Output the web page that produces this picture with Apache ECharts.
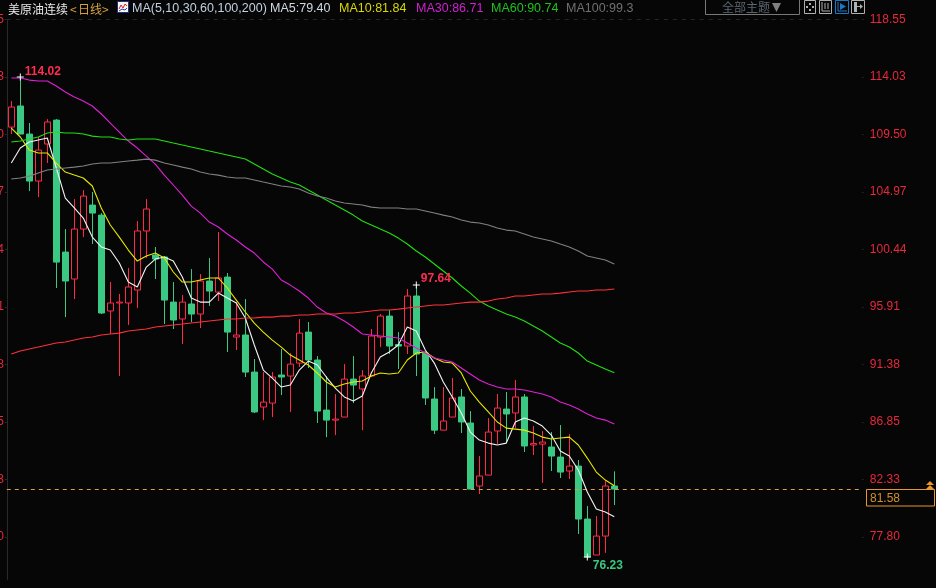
<!DOCTYPE html>
<html lang="zh">

<head>
    <meta charset="UTF-8">
    <script src="https://cdn.jsdelivr.net/npm/echarts@6/dist/echarts.min.js"></script>
    <title>美原油连续</title>
    <style>
        html, body { margin: 0; padding: 0; background: #060606; }
        #main { width: 936px; height: 588px; }
    </style>
</head>

<body>
    <div id="main"></div>

    <script>
        // [open, close, low, high]
        var candles = [
            [110.08,111.66,109.53,112.13],[111.74,109.53,109.53,114.02],[109.53,105.83,105.04,110.40],[105.83,108.27,104.57,109.30],
            [108.75,110.48,107.25,110.71],[110.63,99.45,97.41,110.71],[100.24,97.96,95.12,102.05],[98.12,102.05,96.54,104.41],
            [102.05,104.65,101.42,105.12],[103.94,103.31,100.87,104.97],[103.15,95.44,95.36,103.31],[95.60,96.23,93.79,97.88],
            [96.23,96.30,90.48,96.94],[96.23,97.49,94.50,98.98],[97.25,101.90,95.83,102.68],[101.90,103.63,99.77,104.41],
            [100.01,99.69,98.12,100.64],[99.85,96.46,94.57,99.93],[96.30,94.89,94.18,97.88],[94.97,96.30,93.00,96.86],
            [96.15,95.36,94.73,98.90],[95.36,97.96,94.26,98.51],[97.96,97.17,95.99,99.77],[97.09,98.20,96.38,101.82],
            [98.27,93.94,92.37,98.59],[93.55,93.71,92.53,96.30],[93.71,90.79,90.40,96.54],[90.79,87.65,87.57,91.82],
            [88.04,88.43,87.01,90.79],[88.35,90.40,87.25,90.79],[90.56,90.40,88.98,92.61],[90.48,91.42,87.65,92.29],
            [91.50,93.86,91.19,94.97],[93.94,91.74,91.11,94.73],[91.74,87.72,86.78,92.05],[87.80,87.01,85.67,90.48],
            [87.01,87.09,85.83,89.06],[87.25,90.24,87.25,91.42],[90.24,89.77,88.35,92.05],[89.46,90.48,86.22,90.95],
            [90.48,93.63,90.40,94.18],[93.55,95.20,92.76,95.36],[95.20,92.84,92.21,95.68],[92.96,92.84,91.03,93.94],
            [92.84,96.78,92.21,97.33],[96.78,92.21,90.48,97.64],[92.29,88.75,88.20,92.29],[88.67,86.22,85.91,89.61],
            [86.22,86.94,86.22,89.61],[87.25,88.75,87.25,90.32],[88.83,86.86,85.99,89.46],[86.78,81.58,81.58,87.72],
            [81.82,82.61,81.19,84.18],[82.68,86.07,82.68,87.17],[86.15,87.96,85.12,89.06],[87.88,87.49,85.20,89.22],
            [87.57,88.83,86.38,90.17],[88.83,84.97,84.50,89.06],[85.05,85.16,84.26,86.54],[85.12,85.28,82.06,86.15],
            [84.89,84.18,83.00,86.07],[84.10,82.92,82.45,86.62],[83.00,83.39,82.37,85.91],[83.39,79.22,78.04,83.87],
            [79.22,76.23,76.23,80.25],[76.39,77.88,76.39,79.46],[77.88,81.82,76.56,82.21],[81.82,81.58,80.32,82.98]
        ];

        var ma5 = [107.25,108.43,108.90,109.06,109.22,106.86,104.49,103.71,102.92,101.42,
            100.64,100.40,99.38,97.88,97.49,99.06,99.69,99.85,99.53,98.27,
            96.62,96.30,96.30,97.01,96.62,96.23,95.05,92.92,90.95,90.32,
            89.61,89.77,90.95,91.66,91.35,90.40,89.53,88.83,88.51,88.91,
            90.72,91.97,92.37,92.92,94.34,94.02,92.53,91.50,90.01,88.83,
            87.57,86.07,85.44,85.20,85.05,85.20,86.86,87.17,86.94,86.54,
            85.83,84.57,84.18,83.08,81.35,80.01,79.77,79.40];

        var ma10 = [110.00,109.30,108.27,108.04,108.04,107.25,106.54,106.30,106.07,105.44,
            103.71,102.37,101.42,100.40,99.53,99.93,100.16,99.77,98.67,97.88,
            97.88,98.04,98.20,98.20,97.41,96.46,95.52,94.65,93.94,93.31,
            92.76,92.13,91.74,91.35,90.72,90.01,89.61,89.85,90.01,90.09,
            90.48,90.72,90.64,90.72,91.74,92.29,92.37,91.90,91.58,91.50,
            90.72,89.30,88.43,87.65,86.86,86.38,86.30,86.22,85.99,85.67,
            85.52,85.60,85.67,85.05,84.02,82.92,82.29,81.84];

        var ma30 = [113.94,113.94,113.78,113.71,113.71,113.31,112.84,112.45,112.13,111.74,
            111.11,110.40,109.69,108.98,108.43,107.80,107.17,106.30,105.52,104.73,
            103.86,103.31,102.60,102.21,101.66,101.19,100.64,100.16,99.46,98.90,
            98.04,97.64,97.17,96.62,95.91,95.44,95.20,94.81,94.34,93.79,
            93.71,93.63,93.55,93.47,93.08,92.68,92.29,91.90,91.74,91.58,
            91.11,90.64,90.17,89.85,89.61,89.46,89.46,89.38,89.22,89.06,
            88.83,88.43,88.20,87.88,87.49,87.17,87.01,86.71];

        var ma60 = [108.90,108.98,109.14,109.30,109.61,109.69,109.61,109.61,109.53,109.37,
            109.30,109.30,109.14,109.06,109.14,109.14,109.14,108.98,108.82,108.67,
            108.51,108.35,108.19,108.04,107.88,107.72,107.56,107.17,106.78,106.38,
            106.07,105.75,105.52,105.12,104.73,104.34,103.94,103.55,103.15,102.68,
            102.37,102.05,101.74,101.34,100.87,100.32,99.85,99.30,98.75,98.20,
            97.57,97.01,96.38,95.99,95.68,95.36,95.12,94.81,94.42,94.02,
            93.55,93.08,92.76,92.29,91.66,91.35,91.03,90.74];

        var ma100 = [105.99,106.07,106.22,106.46,106.70,106.78,106.86,106.93,107.01,107.17,
            107.25,107.25,107.33,107.41,107.48,107.56,107.48,107.25,107.09,106.93,
            106.78,106.54,106.38,106.30,106.15,106.07,106.07,105.91,105.75,105.60,
            105.44,105.36,105.20,104.89,104.65,104.49,104.26,104.10,104.02,103.94,
            103.78,103.71,103.71,103.71,103.63,103.63,103.47,103.31,103.15,103.00,
            102.76,102.60,102.53,102.37,102.13,101.97,101.90,101.66,101.42,101.27,
            101.11,100.87,100.64,100.32,99.93,99.77,99.61,99.30];

        var ma200 = [92.21,92.45,92.61,92.76,92.92,93.08,93.16,93.31,93.47,93.55,
            93.71,93.79,93.86,94.02,94.10,94.18,94.34,94.42,94.50,94.57,
            94.65,94.73,94.81,94.89,94.97,94.97,95.05,95.05,95.12,95.12,
            95.20,95.20,95.28,95.28,95.36,95.36,95.36,95.44,95.44,95.52,
            95.60,95.68,95.68,95.75,95.83,95.91,95.99,96.07,96.07,96.15,
            96.23,96.30,96.30,96.38,96.54,96.62,96.78,96.78,96.86,96.94,
            96.94,97.01,97.09,97.17,97.17,97.25,97.25,97.33];

        var tickLabels = [118.55, 114.03, 109.50, 104.97, 100.44, 95.91, 91.38, 86.85, 82.33, 77.80];
        var lastClose = 81.58;
        // [candle index, value] of the marked high and low
        var extremes = [[1, 114.02, '#ff2d50', 0, -5], [45, 97.64, '#ff2d50', 0, -6], [64, 76.23, '#3ac882', 1, 9]];
        var upColor = '#ff2a48';
        var downColor = '#3ac882';
        var bg = '#060606';

        // 9px per candle, the empty part on the right is kept free like in the terminal
        var slotCount = 95;
        var slots = [];
        for (var s = 0; s < slotCount; s++) slots.push(s);

        var sansFont = '"Liberation Sans", "Noto Sans CJK SC", sans-serif';
        var cjkFont = '"Noto Sans CJK SC", sans-serif';

        function label(x, y, text, fill, font) {
            return {
                type: 'text', silent: true, z: 50,
                style: { x: x, y: y, text: text, fill: fill, font: font, verticalAlign: 'middle' }
            };
        }
        function box(x, y, w, h, stroke, fill) {
            return {
                type: 'rect', silent: true, z: 50,
                shape: { x: x, y: y, width: w, height: h },
                style: { stroke: stroke, fill: fill || 'transparent', lineWidth: 1 }
            };
        }
        function poly(points, fill) {
            return { type: 'polygon', silent: true, z: 51, shape: { points: points }, style: { fill: fill } };
        }
        function wire(points, stroke) {
            return { type: 'polyline', silent: true, z: 51, shape: { points: points }, style: { stroke: stroke, fill: 'none', lineWidth: 1 } };
        }

        var header = [
            label(8, 9, '美原油连续', '#e8e8e8', '12px ' + cjkFont),
            label(70, 9, '<', '#d8a040', '12px ' + cjkFont),
            label(78, 9, '日线', '#d8a040', '12px ' + cjkFont),
            label(102, 9, '>', '#d8a040', '12px ' + cjkFont),
            box(117.5, 1.5, 11, 11, '#203080', '#f4f4f4'),
            wire([[119, 9], [121, 5], [123, 8], [125, 4], [127, 6]], '#e02020'),
            wire([[119, 11], [122, 9], [125, 10], [127, 8]], '#2040c0'),
            label(132, 9, 'MA(5,10,30,60,100,200)', '#c0d0e0', '12.5px ' + sansFont),
            label(270, 9, 'MA5:79.40', '#d0d8e0', '12.5px ' + sansFont),
            label(339, 9, 'MA10:81.84', '#d8d800', '12.5px ' + sansFont),
            label(416, 9, 'MA30:86.71', '#d020d0', '12.5px ' + sansFont),
            label(491, 9, 'MA60:90.74', '#20c020', '12.5px ' + sansFont),
            label(566, 9, 'MA100:99.3', '#707070', '12.5px ' + sansFont)
        ];

        var toolbar = [
            box(705.5, -1.5, 94, 16, '#787878'),
            label(722, 7, '全部主题', '#5c6670', '12px ' + cjkFont),
            poly([[772, 3], [781, 3], [776.5, 12]], '#808080'),
            // crosshair
            box(804.5, 0.5, 11, 13, '#b0b0b0'),
            { type: 'rect', silent: true, z: 51, shape: { x: 809, y: 3, width: 2, height: 2 }, style: { fill: '#b0b0b0' } },
            { type: 'rect', silent: true, z: 51, shape: { x: 809, y: 9, width: 2, height: 2 }, style: { fill: '#b0b0b0' } },
            { type: 'rect', silent: true, z: 51, shape: { x: 806, y: 6, width: 2, height: 2 }, style: { fill: '#b0b0b0' } },
            { type: 'rect', silent: true, z: 51, shape: { x: 812, y: 6, width: 2, height: 2 }, style: { fill: '#b0b0b0' } },
            // axis
            box(819.5, 0.5, 12, 13, '#b0b0b0'),
            wire([[822, 2], [822, 11], [830, 11]], '#b0b0b0'),
            wire([[825, 3], [825, 9]], '#b0b0b0'),
            wire([[828, 3], [828, 9]], '#b0b0b0'),
            // play, the active one
            box(835.5, 0.5, 13, 13, '#1a78c8'),
            wire([[838, 2], [838, 11], [847, 11]], '#1a78c8'),
            poly([[840, 3], [846, 6.5], [840, 10]], '#1a78c8'),
            // move right
            box(851.5, 0.5, 13, 13, '#b0b0b0'),
            { type: 'rect', silent: true, z: 51, shape: { x: 854, y: 2, width: 3, height: 10 }, style: { fill: '#b0b0b0' } },
            wire([[857, 6.5], [862, 6.5]], '#b0b0b0'),
            poly([[860, 4], [863, 6.5], [860, 9]], '#b0b0b0')
        ];

        var lastTag = [
            box(866.5, 489.5, 68, 16.5, '#e8962e', bg),
            label(870, 498.5, lastClose.toFixed(2), '#d0902c', '12px ' + sansFont),
            poly([[930, 481], [934, 485], [926, 485]], '#e8962e'),
            poly([[930, 485], [934, 489], [926, 489]], '#e8962e')
        ];

        function maSeries(name, data, color) {
            return {
                name: name, type: 'line', data: data, symbol: 'none', silent: true,
                lineStyle: { color: color, width: 1.1 }, z: 5
            };
        }

        var chart = echarts.init(document.getElementById('main'));
        var option = {
            backgroundColor: bg,
            animation: false,
            textStyle: { fontFamily: sansFont },
            // labels of the left axis run off the page on purpose, only their last digit shows
            grid: { left: 6.8, top: 19.5, width: slotCount * 9, height: 560, containLabel: false, outerBoundsMode: 'none' },
            xAxis: { type: 'category', data: slots, show: false, boundaryGap: true },
            yAxis: [
                {
                    type: 'value', position: 'left', min: 74.46, max: 118.55, splitLine: { show: false },
                    axisLine: { show: true, onZero: false, lineStyle: { color: '#2a2a2a' } },
                    axisTick: { show: true, length: 2, customValues: tickLabels, lineStyle: { color: '#2a2a2a' } },
                    axisLabel: {
                        margin: 3, color: '#e8283c', fontSize: 12, customValues: tickLabels, padding: [3, 0, 0, 0],
                        formatter: function (v) { return v.toFixed(2); }
                    }
                },
                {
                    type: 'value', position: 'right', min: 74.46, max: 118.55, splitLine: { show: false },
                    axisLine: { show: false },
                    axisTick: { show: true, length: 2, customValues: tickLabels, lineStyle: { color: '#222' } },
                    axisLabel: {
                        margin: 8, color: '#e8283c', fontSize: 12, customValues: tickLabels, padding: [3, 0, 0, 0],
                        formatter: function (v) { return v.toFixed(2); }
                    }
                }
            ],
            series: [
                {
                    name: '美原油连续', type: 'candlestick', data: candles, barWidth: 7, silent: true,
                    itemStyle: { color: 'transparent', color0: downColor, borderColor: upColor, borderColor0: downColor, borderWidth: 1 },
                    markLine: {
                        silent: true, symbol: 'none', animation: false, label: { show: false },
                        data: [
                            { yAxis: tickLabels[0], lineStyle: { color: '#262626', type: [4, 5], width: 1 } },
                            { yAxis: lastClose, lineStyle: { color: '#dc9a44', type: [4, 4], width: 1 } }
                        ]
                    },
                    markPoint: {
                        silent: true, animation: false, z: 10,
                        symbol: 'path://M0 3h7v1H0zM3 0h1v7H3z', symbolSize: 7,
                        itemStyle: { color: '#ffffff' },
                        data: extremes.map(function (e) {
                            return {
                                coord: [e[0], e[1]], value: e[1],
                                label: {
                                    show: true, position: 'right', distance: 1, offset: [e[3], e[4]],
                                    color: e[2], fontSize: 12, fontWeight: 'bold', formatter: '{c}'
                                }
                            };
                        })
                    }
                },
                maSeries('MA5', ma5, '#f4f4f4'),
                maSeries('MA10', ma10, '#e8e800'),
                maSeries('MA30', ma30, '#e020d8'),
                maSeries('MA60', ma60, '#20e010'),
                maSeries('MA100', ma100, '#808080'),
                maSeries('MA200', ma200, '#ff3038')
            ],
            graphic: header.concat(toolbar, lastTag)
        };
        chart.setOption(option);
    </script>
</body>

</html>
